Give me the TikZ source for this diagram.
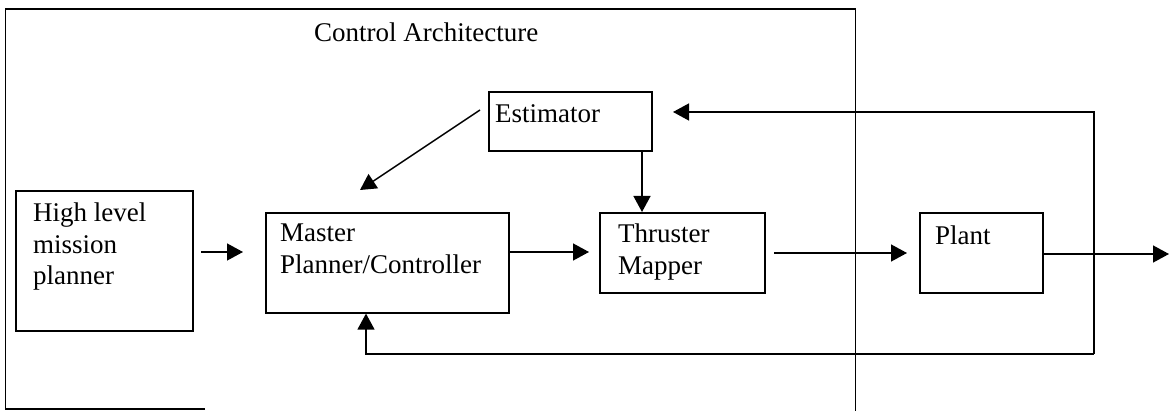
\documentclass[tikz,border=0pt]{standalone}
\usepackage{fontspec}
\setmainfont{Liberation Serif}
\usetikzlibrary{arrows.meta}
\begin{document}
\begin{tikzpicture}[x=1pt,y=-1pt,
  box/.style={draw, line width=1.6pt, inner sep=0pt, anchor=north west},
  txt/.style={inner sep=0pt, anchor=base west, font=\fontsize{27}{31.5}\selectfont},
  arr/.style={line width=1.4pt, -{Triangle[length=16pt,width=17pt]}},
  frame/.style={line width=1.6pt}]
\useasboundingbox (0,0) rectangle (1170,411);
\fill[white] (0,0) rectangle (1170,411);
% outer frame
\draw[frame] (205,409) -- (5.5,409) -- (5.5,9) -- (855.5,9) -- (855.5,411);
\node[txt] (title) at (314,42) {Control Architecture};
% boxes
\node[box, minimum width=177pt, minimum height=140pt] (hl) at (15,190) {};
\node[box, minimum width=163pt, minimum height=59pt] (est) at (488,91) {};
\node[box, minimum width=243pt, minimum height=100pt] (mp) at (265,212) {};
\node[box, minimum width=165pt, minimum height=80pt] (tm) at (599,212) {};
\node[box, minimum width=123pt, minimum height=80pt] (pl) at (919,212) {};
% texts
\node[txt] (hlt) at (33,222) {\vtop{\hbox{High level}\hbox{mission}\hbox{planner}}};
\node[txt] (estt) at (495,123) {Estimator};
\node[txt] (mpt) at (280,242) {\vtop{\hbox{Master}\hbox{Planner/Controller}}};
\node[txt] (tmt) at (618,243) {\vtop{\hbox{Thruster}\hbox{Mapper}}};
\node[txt] (plt) at (935,245) {Plant};
% connectors
\coordinate (a1s) at (201,252); \coordinate (a1e) at (243,252);
\draw[arr] (a1s) -- (a1e);
\coordinate (a2e) at (589,252);
\draw[arr] (mp.east |- a2e) -- (a2e);
\coordinate (a3s) at (774,253); \coordinate (a3e) at (907,253);
\draw[arr] (a3s) -- (a3e);
\coordinate (outE) at (1169,254);
\draw[arr] (pl.east |- outE) -- (outE);
\coordinate (ex) at (642,0);
\draw[arr] (est.south -| ex) -- (tm.north -| ex);
\coordinate (d1) at (480,110); \coordinate (d2) at (360,190);
\draw[arr] (d1) -- (d2);
\coordinate (fbR) at (1094,354); \coordinate (fbT) at (1094,112); \coordinate (fbE) at (673,112);
\draw[arr] (fbR) -- (fbT) -- (fbE);
\coordinate (fbL) at (366,354);
\draw[arr] (fbR) -- (fbL) -- (mp.south -| fbL);
\end{tikzpicture}
\end{document}
